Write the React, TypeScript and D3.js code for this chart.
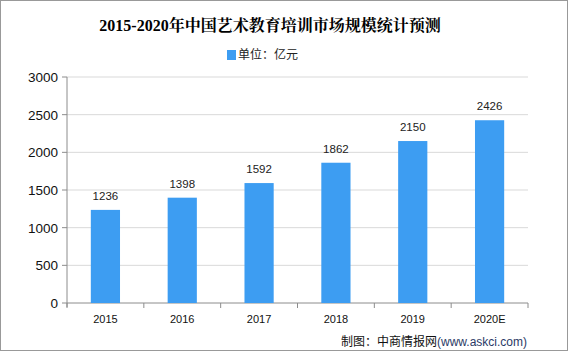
import React from "react";
import * as d3 from "d3";

const categories = ["2015", "2016", "2017", "2018", "2019", "2020E"];
const values = [1236, 1398, 1592, 1862, 2150, 2426];
const yTicks = [0, 500, 1000, 1500, 2000, 2500, 3000];

const W = 569, H = 355;
const left = 67, right = 528, top = 77, bottom = 303;

export default function App() {
  const x = d3.scaleBand<string>().domain(categories).range([left, right]).paddingInner(0.62).paddingOuter(0.31);
  const band = d3.scaleBand<string>().domain(categories).range([left, right]);
  const y = d3.scaleLinear().domain([0, 3000]).range([bottom, top]);
  const blue = "#3d9df2";
  const axisColor = "#8c8c8c";
  const sans = "'Liberation Sans', Arial, sans-serif";
  const cjk = "'Noto Sans CJK SC', sans-serif";
  return (
    <svg width={W} height={H} style={{ position: "fixed", left: 0, top: 0, background: "#fff" }}>
      <rect x={0.5} y={0.5} width={W - 2} height={350} fill="#fff" stroke="#999" />
      <text x={270} y={31} textAnchor="middle" fontSize={16} fontWeight="bold" fontFamily="'Liberation Serif', 'Noto Serif CJK SC', 'Noto Sans CJK SC', serif">2015-2020年中国艺术教育培训市场规模统计预测</text>
      <rect x={227} y={50} width={9} height={10} fill={blue} />
      <text x={238} y={59} fontSize={12} fontFamily={cjk} fill="#222">单位：亿元</text>
      {yTicks.map(t => (
        <g key={t}>
          {t > 0 && <line x1={left} x2={right} y1={y(t)} y2={y(t)} stroke="#d9d9d9" />}
          <line x1={left - 5} x2={left} y1={y(t)} y2={y(t)} stroke={axisColor} />
          <text x={left - 9} y={y(t) + 5} textAnchor="end" fontSize={13.5} fontFamily={sans} fill="#111">{t}</text>
        </g>
      ))}
      <line x1={left} x2={left} y1={top} y2={bottom + 4} stroke={axisColor} />
      <line x1={left} x2={right} y1={bottom} y2={bottom} stroke={axisColor} />
      {categories.map((c, i) => (
        <g key={c}>
          <line x1={band(c)!} x2={band(c)!} y1={bottom} y2={bottom + 5} stroke={axisColor} />
          {i === categories.length - 1 && <line x1={right} x2={right} y1={bottom} y2={bottom + 5} stroke={axisColor} />}
          <rect x={x(c)!} y={y(values[i])} width={x.bandwidth()} height={bottom - y(values[i])} fill={blue} />
          <text x={x(c)! + x.bandwidth() / 2} y={y(values[i]) - 10} textAnchor="middle" fontSize={11.5} fontFamily={sans} fill="#222">{values[i]}</text>
          <text x={band(c)! + band.bandwidth() / 2} y={323} textAnchor="middle" fontSize={11} fontFamily={sans} fill="#111">{c}</text>
        </g>
      ))}
      <text x={527} y={346} textAnchor="end" fontSize={12} fontFamily={cjk} fill="#111">
        制图：中商情报网<tspan fill="#2b3a66" fontFamily={sans}>(www.askci.com)</tspan>
      </text>
    </svg>
  );
}
